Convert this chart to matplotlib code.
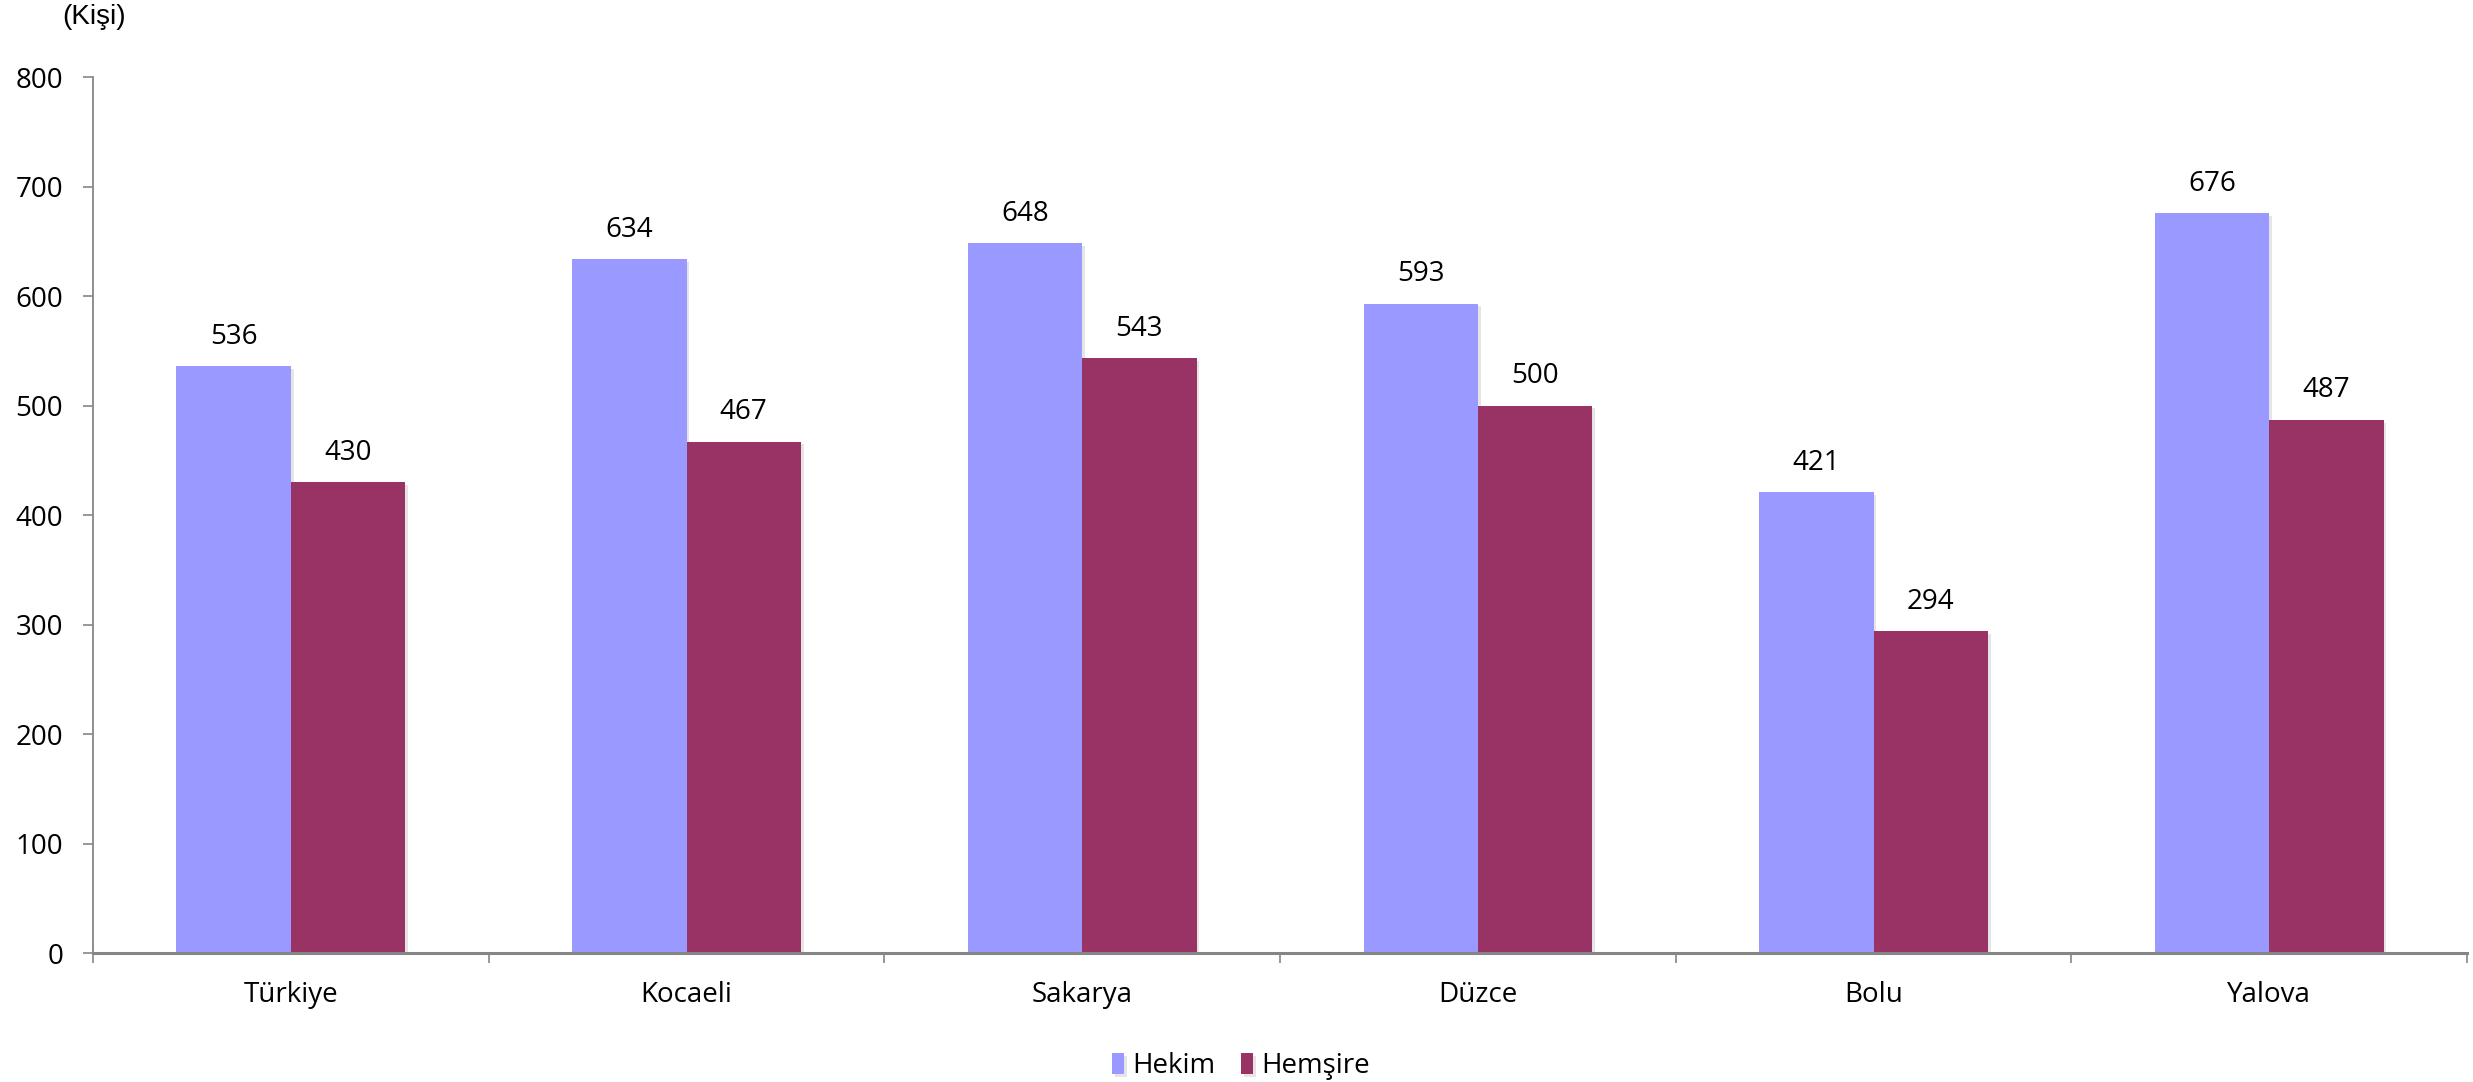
import matplotlib as mpl
mpl.use("Agg")
from matplotlib import pyplot as plt
import matplotlib.patheffects as pe
import numpy as np

# data
regions = ['Türkiye', 'Kocaeli', 'Sakarya', 'Düzce', 'Bolu', 'Yalova']
hekim = [536, 634, 648, 593, 421, 676]
hemsire = [430, 467, 543, 500, 294, 487]
series_names = ['Hekim', 'Hemşire']
y_ticks = [0, 100, 200, 300, 400, 500, 600, 700, 800]

colors = ['#9999FF', '#993366']
axis_grey = '#868686'

plt.rcParams['font.family'] = ['Open Sans', 'DejaVu Sans']

fig = plt.figure(figsize=(24.73, 10.82), dpi=100)
ax = fig.add_axes([0.0376, 0.1192, 0.96, 0.8096])

x = np.arange(len(regions))
w = 0.289
shadow = [pe.SimplePatchShadow(offset=(2, -2), shadow_rgbFace='#000000', alpha=0.1), pe.Normal()]

bars1 = ax.bar(x - w / 2, hekim, w, color=colors[0], label=series_names[0], zorder=3)
bars2 = ax.bar(x + w / 2, hemsire, w, color=colors[1], label=series_names[1], zorder=3)
for b in list(bars1) + list(bars2):
    b.set_path_effects(shadow)

ax.bar_label(bars1, padding=11, fontsize=20)
ax.bar_label(bars2, padding=11, fontsize=20)

ax.set_xlim(-0.5, len(regions) - 0.5)
ax.set_ylim(0, 800)
ax.set_yticks(y_ticks)

# category labels at centres, tick marks at boundaries
ax.set_xticks(x)
ax.set_xticklabels(regions, fontsize=20)
ax.set_xticks(np.arange(len(regions) + 1) - 0.5, minor=True)
ax.tick_params(axis='x', which='major', length=0, pad=20)
ax.tick_params(axis='x', which='minor', length=7.5, width=1.2, color=axis_grey)
ax.tick_params(axis='y', length=7.5, width=1.2, color=axis_grey, pad=14, labelsize=20)

for s in ['top', 'right']:
    ax.spines[s].set_visible(False)
ax.spines['left'].set_color(axis_grey)
ax.spines['left'].set_linewidth(1.3)
ax.spines['bottom'].set_color(axis_grey)
ax.spines['bottom'].set_linewidth(2.2)
ax.spines['bottom'].set_zorder(4)

fig.text(62 / 2473, 1 - 17 / 1082, '(Kişi)', fontsize=20, family='Liberation Sans',
         ha='left', va='center')

leg = fig.legend(loc='center', bbox_to_anchor=(1241 / 2473, 1 - 1066 / 1082), ncol=2,
                 frameon=False, fontsize=20, handlelength=0.45, handleheight=0.8,
                 handletextpad=0.3, columnspacing=0.9)

fig.savefig('out.png', dpi=100)
